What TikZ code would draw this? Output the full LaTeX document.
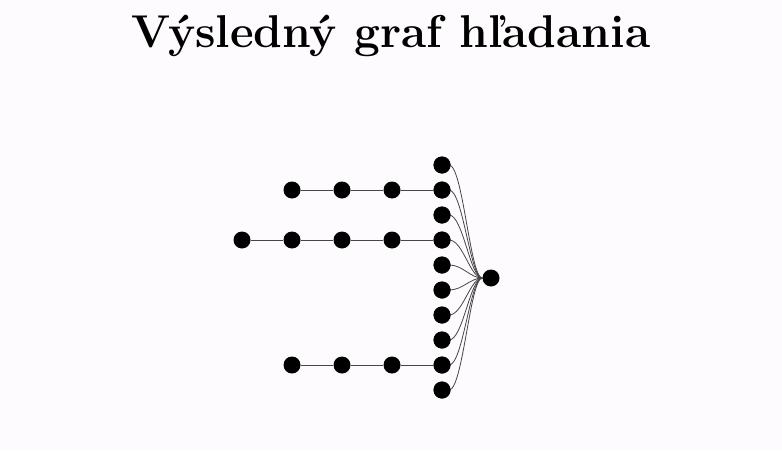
\documentclass[tikz,border=0pt]{standalone}
\usepackage{fontspec}
\definecolor{bgc}{RGB}{253,251,253}
\definecolor{edgec}{RGB}{70,70,70}
\begin{document}
\begin{tikzpicture}[x=1pt,y=-1pt,
  dot/.style={circle,fill=black,inner sep=0pt,minimum size=17pt},
  edge/.style={draw=edgec,line width=0.8pt}]
\fill[bgc] (0,0) rectangle (782,450);
\useasboundingbox (0,0) rectangle (782,450);
\node[font=\fontsize{46}{52}\selectfont\bfseries] (title) at (391,36) {Výsledný graf hľadania};
% column
\foreach \i [evaluate=\i as \y using 165+25*(\i-1)] in {1,...,10} {
  \node[dot] (c\i) at (442,\y) {};
}
\node[dot] (h) at (491,278) {};
% rows
\node[dot] (a1) at (292,190) {};
\node[dot] (a2) at (342,190) {};
\node[dot] (a3) at (392,190) {};
\node[dot] (b0) at (242,240) {};
\node[dot] (b1) at (292,240) {};
\node[dot] (b2) at (342,240) {};
\node[dot] (b3) at (392,240) {};
\node[dot] (d1) at (292,365) {};
\node[dot] (d2) at (342,365) {};
\node[dot] (d3) at (392,365) {};
\draw[edge] (a1) -- (a2) -- (a3) -- (c2);
\draw[edge] (b0) -- (b1) -- (b2) -- (b3) -- (c4);
\draw[edge] (d1) -- (d2) -- (d3) -- (c9);
\foreach \i in {1,...,10} {
  \draw[edge] (c\i.center) ++(7,0) .. controls +(14,0) and (470,278) .. (h.west);
}
% redraw dots on top
\foreach \i [evaluate=\i as \y using 165+25*(\i-1)] in {1,...,10} {
  \fill (442,\y) circle (8.5);
}
\end{tikzpicture}
\end{document}
